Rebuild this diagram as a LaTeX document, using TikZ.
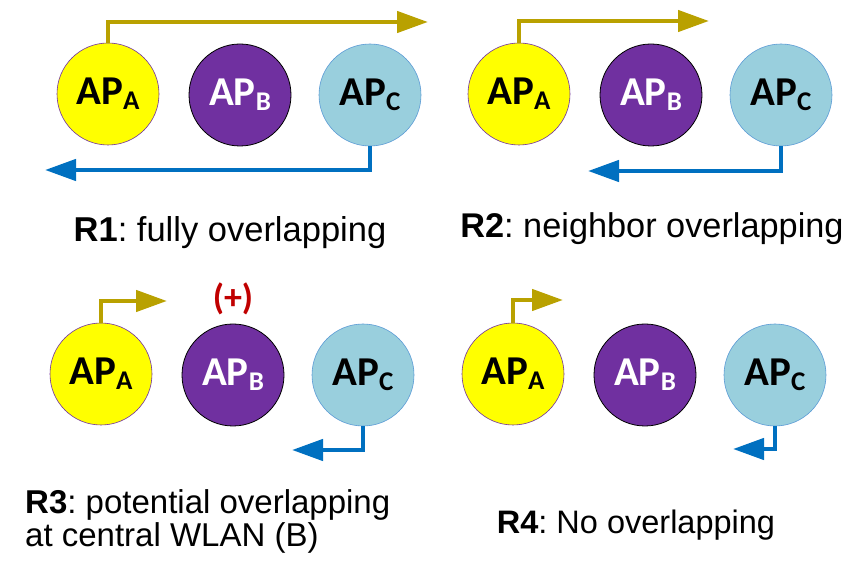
\documentclass[tikz,border=0pt]{standalone}
\usepackage{fontspec}
\setmainfont{Liberation Sans}
\newfontfamily\apfont{Carlito}
\usetikzlibrary{arrows.meta}
\definecolor{apyellow}{HTML}{FFFF00}
\definecolor{appurple}{HTML}{7030A0}
\definecolor{aplight}{HTML}{99CFDD}
\definecolor{apedge}{HTML}{5B9BD5}
\definecolor{goldline}{HTML}{B9A100}
\definecolor{blueline}{HTML}{0070C0}
\definecolor{plusred}{HTML}{C00000}
\newcommand\apname[1]{AP\raisebox{-5pt}{\fontsize{27}{27}\selectfont #1}}
\frenchspacing
\begin{document}
\begin{tikzpicture}[
      x=1pt, y=-1pt,
      ap/.style={circle, minimum size=102pt, inner sep=0pt,
        font=\apfont\bfseries\fontsize{41}{41}\selectfont},
      apA/.style={ap, fill=apyellow, draw=appurple, line width=0.6pt},
      apB/.style={ap, fill=appurple, draw=black, line width=0.8pt, text=white},
      apC/.style={ap, fill=aplight, draw=apedge, line width=0.6pt},
      gold/.style={draw=goldline, line width=4.5pt,
        -{Triangle[length=31pt, width=21pt]}},
      blue/.style={draw=blueline, line width=4.5pt,
        -{Triangle[length=31pt, width=21pt]}},
      caption/.style={anchor=base, inner sep=0pt,
        font=\fontsize{#1}{34}\selectfont},
    ]
      \useasboundingbox (0,0) rectangle (863,577);
      % the four rows of access points
      \foreach \x/\y/\n in {108/94/1, 519/94/2, 101/374/3, 513/374/4} {
        \node[apA] (a\n) at (\x,\y) {\apname{A}};
        \node[apB] (b\n) at (\x+132,\y+1) {\apname{B}};
        \node[apC] (c\n) at (\x+262,\y+1) {\apname{C}};
      }
      % R1: fully overlapping
      \coordinate (t1) at (428,22);
      \coordinate (e1) at (45,170);
      \draw[gold] (a1.north) |- (t1);
      \draw[blue] (c1.south) |- (e1);
      \node[caption=34.5] (r1) at (230,242) {\textbf{R1}: fully overlapping};
      % R2: neighbor overlapping
      \coordinate (t2) at (709,21);
      \coordinate (e2) at (588,171);
      \draw[gold] (a2.north) |- (t2);
      \draw[blue] (c2.south) |- (e2);
      \node[caption=34.3] (r2) at (652,238) {\textbf{R2}: neighbor overlapping};
      % R3: potential overlapping
      \coordinate (t3) at (167,301);
      \coordinate (e3) at (292,450);
      \draw[gold] (a3.north) |- (t3);
      \draw[blue] (c3.south) |- (e3);
      \node[font=\apfont\bfseries\fontsize{36}{36}\selectfont, text=plusred]
        (plus) at (233,299) {(+)};
      \node[caption=33, align=left, anchor=base west] (r3) at (25,547)
        {\textbf{R3}: potential overlapping\\at central WLAN (B)};
      % R4: no overlapping
      \coordinate (t4) at (563,300);
      \coordinate (e4) at (733,449);
      \draw[gold] (a4.north) |- (t4);
      \draw[blue] (c4.south) |- (e4);
      \node[caption=32.5] (r4) at (636,533) {\textbf{R4}: No overlapping};
\end{tikzpicture}
\end{document}
